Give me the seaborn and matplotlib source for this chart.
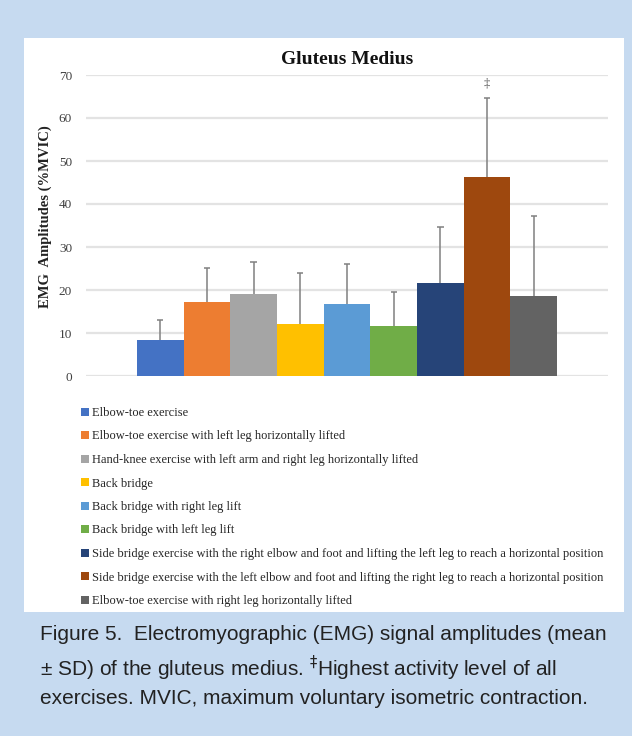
import numpy as np
import pandas as pd
import matplotlib
matplotlib.use("Agg")
import matplotlib.pyplot as plt
import seaborn as sns
from matplotlib.patches import Rectangle

exercises = [
    "Elbow-toe exercise",
    "Elbow-toe exercise with left leg horizontally lifted",
    "Hand-knee exercise with left arm and right leg horizontally lifted",
    "Back bridge",
    "Back bridge with right leg lift",
    "Back bridge with left leg lift",
    "Side bridge exercise with the right elbow and foot and lifting the left leg to reach a horizontal position",
    "Side bridge exercise with the left elbow and foot and lifting the right leg to reach a horizontal position",
    "Elbow-toe exercise with right leg horizontally lifted",
]
means = [8.4, 17.2, 19.1, 12.1, 16.7, 11.6, 21.6, 46.3, 18.6]
sds = [4.7, 7.9, 7.3, 11.8, 9.4, 7.9, 13.0, 18.4, 18.5]
colors = ["#4472C4", "#ED7D31", "#A5A5A5", "#FFC000", "#5B9BD5",
          "#70AD47", "#264478", "#9E480E", "#636363"]
muscle = ["Gluteus Medius"]
yticks = [0, 10, 20, 30, 40, 50, 60, 70]

df = pd.DataFrame({"muscle": muscle * len(exercises), "exercise": exercises,
                   "mean": means, "sd": sds})

sns.set_theme(style="white")
plt.rcParams["font.family"] = ["Liberation Serif", "DejaVu Serif"]

fig = plt.figure(figsize=(6.32, 7.36), dpi=100)
fig.patch.set_facecolor("#C6DAF0")
fig.patches.append(Rectangle((24 / 632, 1 - 612 / 736), 600 / 632, 574 / 736,
                             transform=fig.transFigure, facecolor="white",
                             edgecolor="none", zorder=-10))

ax = fig.add_axes([86 / 632, 1 - 376 / 736, 522 / 632, 301 / 736])
ax.set_facecolor("none")
sns.barplot(data=df, x="muscle", y="mean", hue="exercise", hue_order=exercises,
            palette=colors, saturation=1, errorbar=None, width=0.805,
            linewidth=0, ax=ax, zorder=3)

ax.set_xlim(-0.5, 0.5)
ax.set_ylim(0, 70)
ax.set_yticks(yticks)
ax.yaxis.grid(True, color="#E3E3E3", linewidth=1.6, zorder=0)
ax.set_axisbelow(True)
for s in ax.spines.values():
    s.set_visible(False)
ax.set_xticks([])
ax.set_xlabel("")
ax.tick_params(axis="y", length=0, pad=10, labelsize=9.5, labelcolor="#404040")
ax.set_ylabel("EMG  Amplitudes (%MVIC)", fontsize=10.5, fontweight="bold",
              color="#222222")
ax.yaxis.set_label_coords(-0.066, 0.53)
ax.set_title("Gluteus Medius", fontsize=14, fontweight="bold", pad=8,
             color="#111111")

# error bars (upper only) from bar patches
bars = [p for p in ax.patches][:len(exercises)]
xs = [p.get_x() + p.get_width() / 2 for p in bars]
tops = [m + s for m, s in zip(means, sds)]
ax.vlines(xs, means, tops, color="#808080", linewidth=1.1, zorder=4)
cap = 0.006
ax.hlines(tops, [x - cap for x in xs], [x + cap for x in xs],
          color="#808080", linewidth=1.1, zorder=4)
imax = int(np.argmax(means))
ax.text(xs[imax], 68, "\u2021", ha="center", va="center", fontsize=9,
        color="#555555", zorder=5, clip_on=False)

sns.move_legend(ax, "upper left", bbox_to_anchor=(76 / 632, 1 - 402 / 736),
                bbox_transform=fig.transFigure, frameon=False, title=None,
                fontsize=9, handlelength=0.62, handleheight=0.62,
                handletextpad=0.25, labelspacing=0.92, borderaxespad=0)

fig.text(40 / 632, 1 - 625 / 736,
         "Figure 5.  Electromyographic (EMG) signal amplitudes (mean\n"
         "\u00b1 SD) of the gluteus medius. $^{\u2021}$Highest activity level of all\n"
         "exercises. MVIC, maximum voluntary isometric contraction.",
         ha="left", va="top", fontsize=15, color="#222222",
         family=["Liberation Sans", "DejaVu Sans"],
         linespacing=1.43)

fig.savefig("out.png", dpi=100, facecolor=fig.get_facecolor())
